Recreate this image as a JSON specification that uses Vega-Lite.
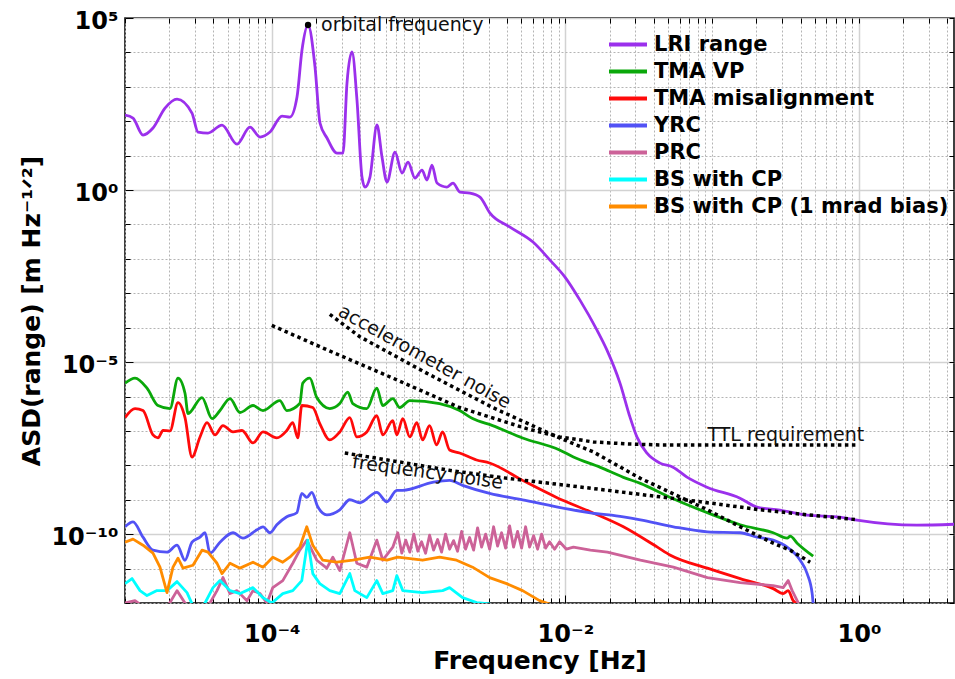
{
  "$schema": "https://vega.github.io/schema/vega-lite/v6.json",
  "width": 829,
  "height": 585,
  "autosize": {"type": "none"},
  "padding": {"left": 125, "top": 18, "right": 1, "bottom": 76},
  "background": "white",
  "config": {
    "font": "DejaVu Sans",
    "view": {"stroke": "black", "strokeWidth": 1.5},
    "axis": {"domain": false, "labelFont": "DejaVu Sans", "titleFont": "DejaVu Sans", "labelColor": "black", "titleColor": "black", "tickColor": "black", "labelFontWeight": "bold", "titleFontWeight": "bold", "labelOverlap": false, "labelBound": false, "labelFlush": false}
  },
  "datasets": {
    "series": [
      {"s":"LRI range","f":1e-5,"a":151},{"s":"LRI range","f":1.134e-5,"a":124},{"s":"LRI range","f":1.326e-5,"a":39.7},{"s":"LRI range","f":1.551e-5,"a":63.4},{"s":"LRI range","f":1.873e-5,"a":242},{"s":"LRI range","f":2.261e-5,"a":442},{"s":"LRI range","f":2.86e-5,"a":173},{"s":"LRI range","f":3.143e-5,"a":48.5},{"s":"LRI range","f":3.676e-5,"a":45.4},{"s":"LRI range","f":4.58e-5,"a":77.6},{"s":"LRI range","f":5.795e-5,"a":21.7},{"s":"LRI range","f":7.1e-5,"a":67.8},{"s":"LRI range","f":8.31e-5,"a":34.7},{"s":"LRI range","f":9.72e-5,"a":48.5},{"s":"LRI range","f":1.174e-4,"a":141.6},{"s":"LRI range","f":1.33e-4,"a":132.4},{"s":"LRI range","f":1.485e-4,"a":505},{"s":"LRI range","f":1.606e-4,"a":11750},{"s":"LRI range","f":1.765e-4,"a":62600},{"s":"LRI range","f":1.97e-4,"a":3765},{"s":"LRI range","f":2.13e-4,"a":88.7},{"s":"LRI range","f":2.377e-4,"a":32.5},{"s":"LRI range","f":2.78e-4,"a":11.9},{"s":"LRI range","f":3.055e-4,"a":11.9},{"s":"LRI range","f":3.253e-4,"a":1288},{"s":"LRI range","f":3.518e-4,"a":10280},{"s":"LRI range","f":3.805e-4,"a":413},{"s":"LRI range","f":4.115e-4,"a":2.39},{"s":"LRI range","f":4.313e-4,"a":1.22},{"s":"LRI range","f":4.665e-4,"a":2.39},{"s":"LRI range","f":5.208e-4,"a":77.6},{"s":"LRI range","f":5.633e-4,"a":9.1},{"s":"LRI range","f":6.09e-4,"a":1.71},{"s":"LRI range","f":6.907e-4,"a":12.7},{"s":"LRI range","f":7.71e-4,"a":3.12},{"s":"LRI range","f":8.47e-4,"a":6.52},{"s":"LRI range","f":9.45e-4,"a":2.23},{"s":"LRI range","f":1.055e-3,"a":3.81},{"s":"LRI range","f":1.141e-3,"a":1.95},{"s":"LRI range","f":1.234e-3,"a":5.33},{"s":"LRI range","f":1.335e-3,"a":1.6},{"s":"LRI range","f":1.561e-3,"a":1.22},{"s":"LRI range","f":1.715e-3,"a":1.6},{"s":"LRI range","f":1.914e-3,"a":0.875},{"s":"LRI range","f":2.24e-3,"a":0.818},{"s":"LRI range","f":2.62e-3,"a":0.626},{"s":"LRI range","f":3.065e-3,"a":0.214},{"s":"LRI range","f":4.195e-3,"a":0.0839},{"s":"LRI range","f":6.016e-3,"a":0.0308},{"s":"LRI range","f":7.855e-3,"a":0.00923},{"s":"LRI range","f":9.94e-3,"a":0.00296},{"s":"LRI range","f":1.257e-2,"a":6.34e-4},{"s":"LRI range","f":1.642e-2,"a":8.51e-5},{"s":"LRI range","f":1.92e-2,"a":2.23e-5},{"s":"LRI range","f":2.355e-2,"a":2.45e-6},{"s":"LRI range","f":2.755e-2,"a":2.52e-7},{"s":"LRI range","f":3.075e-2,"a":6.6e-8},{"s":"LRI range","f":3.597e-2,"a":2.26e-8},{"s":"LRI range","f":4.41e-2,"a":1.16e-8},{"s":"LRI range","f":5.41e-2,"a":8.87e-9},{"s":"LRI range","f":6.735e-2,"a":4.54e-9},{"s":"LRI range","f":9.22e-2,"a":2.32e-9},{"s":"LRI range","f":0.1547,"a":1.11e-9},{"s":"LRI range","f":0.202,"a":6.1e-10},{"s":"LRI range","f":0.2897,"a":4.99e-10},{"s":"LRI range","f":0.4424,"a":3.56e-10},{"s":"LRI range","f":0.7425,"a":3.12e-10},{"s":"LRI range","f":0.969,"a":2.55e-10},{"s":"LRI range","f":2.484,"a":1.83e-10},{"s":"LRI range","f":4.508,"a":1.95e-10},

      {"s":"TMA VP","f":1e-5,"a":2.45e-6},{"s":"TMA VP","f":1.17e-5,"a":3.43e-6},{"s":"TMA VP","f":1.412e-5,"a":1.75e-6},{"s":"TMA VP","f":1.678e-5,"a":5.48e-7},{"s":"TMA VP","f":2.025e-5,"a":4.48e-7},{"s":"TMA VP","f":2.296e-5,"a":3.43e-6},{"s":"TMA VP","f":2.563e-5,"a":1.25e-6},{"s":"TMA VP","f":2.687e-5,"a":3.2e-7},{"s":"TMA VP","f":3.346e-5,"a":9.35e-7},{"s":"TMA VP","f":3.914e-5,"a":2.29e-7},{"s":"TMA VP","f":4.437e-5,"a":3.92e-7},{"s":"TMA VP","f":5.192e-5,"a":8.75e-7},{"s":"TMA VP","f":6.074e-5,"a":3.43e-7},{"s":"TMA VP","f":7.447e-5,"a":5.48e-7},{"s":"TMA VP","f":8.711e-5,"a":3.92e-7},{"s":"TMA VP","f":1.134e-4,"a":7.65e-7},{"s":"TMA VP","f":1.265e-4,"a":3.92e-7},{"s":"TMA VP","f":1.551e-4,"a":6.26e-7},{"s":"TMA VP","f":1.626e-4,"a":2.45e-6},{"s":"TMA VP","f":1.815e-4,"a":3.43e-6},{"s":"TMA VP","f":2.025e-4,"a":9.35e-7},{"s":"TMA VP","f":2.484e-4,"a":4.48e-7},{"s":"TMA VP","f":2.906e-4,"a":6.26e-7},{"s":"TMA VP","f":3.294e-4,"a":1.34e-6},{"s":"TMA VP","f":3.563e-4,"a":6.26e-7},{"s":"TMA VP","f":4.437e-4,"a":4.48e-7},{"s":"TMA VP","f":5.192e-4,"a":1.75e-6},{"s":"TMA VP","f":5.704e-4,"a":5.48e-7},{"s":"TMA VP","f":6.673e-4,"a":8.75e-7},{"s":"TMA VP","f":7.447e-4,"a":4.79e-7},{"s":"TMA VP","f":8.711e-4,"a":7.65e-7},{"s":"TMA VP","f":1.39e-3,"a":6.26e-7},{"s":"TMA VP","f":1.902e-3,"a":3.92e-7},{"s":"TMA VP","f":2.333e-3,"a":2.29e-7},{"s":"TMA VP","f":3.193e-3,"a":1.43e-7},{"s":"TMA VP","f":5.111e-3,"a":6.26e-8},{"s":"TMA VP","f":9.132e-3,"a":2.8e-8},{"s":"TMA VP","f":1.134e-2,"a":1.75e-8},{"s":"TMA VP","f":1.731e-2,"a":8.75e-9},{"s":"TMA VP","f":2.484e-2,"a":4.48e-9},{"s":"TMA VP","f":3.243e-2,"a":3.0e-9},{"s":"TMA VP","f":5.192e-2,"a":1.17e-9},{"s":"TMA VP","f":9.276e-2,"a":4.19e-10},{"s":"TMA VP","f":0.1551,"a":1.88e-10},{"s":"TMA VP","f":0.2604,"a":1.1e-10},{"s":"TMA VP","f":0.3243,"a":7.65e-11},{"s":"TMA VP","f":0.3399,"a":8.75e-11},{"s":"TMA VP","f":0.3793,"a":5.48e-11},{"s":"TMA VP","f":0.4876,"a":2.29e-11},

      {"s":"TMA misalignment","f":1e-5,"a":2.45e-7},{"s":"TMA misalignment","f":1.17e-5,"a":4.48e-7},{"s":"TMA misalignment","f":1.326e-5,"a":3.92e-7},{"s":"TMA misalignment","f":1.551e-5,"a":7.65e-8},{"s":"TMA misalignment","f":1.678e-5,"a":6.26e-8},{"s":"TMA misalignment","f":1.815e-5,"a":1.03e-7},{"s":"TMA misalignment","f":2.025e-5,"a":1.0e-7},{"s":"TMA misalignment","f":2.296e-5,"a":6.69e-7},{"s":"TMA misalignment","f":2.563e-5,"a":2.45e-7},{"s":"TMA misalignment","f":2.861e-5,"a":1.75e-8},{"s":"TMA misalignment","f":3.243e-5,"a":6.69e-8},{"s":"TMA misalignment","f":3.62e-5,"a":1.75e-7},{"s":"TMA misalignment","f":4.103e-5,"a":7.65e-8},{"s":"TMA misalignment","f":4.651e-5,"a":1.43e-7},{"s":"TMA misalignment","f":5.442e-5,"a":9.35e-8},{"s":"TMA misalignment","f":6.267e-5,"a":1.03e-7},{"s":"TMA misalignment","f":7.447e-5,"a":4.48e-8},{"s":"TMA misalignment","f":8.711e-5,"a":9.35e-8},{"s":"TMA misalignment","f":1.082e-4,"a":6.26e-8},{"s":"TMA misalignment","f":1.265e-4,"a":1.03e-7},{"s":"TMA misalignment","f":1.39e-4,"a":1.75e-7},{"s":"TMA misalignment","f":1.503e-4,"a":6.26e-8},{"s":"TMA misalignment","f":1.601e-4,"a":5.48e-7},{"s":"TMA misalignment","f":1.902e-4,"a":4.79e-7},{"s":"TMA misalignment","f":2.123e-4,"a":1.64e-7},{"s":"TMA misalignment","f":2.484e-4,"a":5.48e-8},{"s":"TMA misalignment","f":2.906e-4,"a":9.35e-8},{"s":"TMA misalignment","f":3.399e-4,"a":2.45e-7},{"s":"TMA misalignment","f":3.793e-4,"a":6.69e-8},{"s":"TMA misalignment","f":4.437e-4,"a":9.35e-8},{"s":"TMA misalignment","f":5.192e-4,"a":2.8e-7},{"s":"TMA misalignment","f":5.704e-4,"a":7.65e-8},{"s":"TMA misalignment","f":6.673e-4,"a":2.0e-7},{"s":"TMA misalignment","f":7.105e-4,"a":7.65e-8},{"s":"TMA misalignment","f":7.806e-4,"a":2.29e-7},{"s":"TMA misalignment","f":8.711e-4,"a":6.69e-8},{"s":"TMA misalignment","f":9.72e-4,"a":1.75e-7},{"s":"TMA misalignment","f":1.065e-3,"a":5.48e-8},{"s":"TMA misalignment","f":1.188e-3,"a":1.43e-7},{"s":"TMA misalignment","f":1.326e-3,"a":3.92e-8},{"s":"TMA misalignment","f":1.457e-3,"a":9.35e-8},{"s":"TMA misalignment","f":1.626e-3,"a":2.8e-8},{"s":"TMA misalignment","f":1.902e-3,"a":2.29e-8},{"s":"TMA misalignment","f":2.484e-3,"a":1.43e-8},{"s":"TMA misalignment","f":3.046e-3,"a":1.17e-8},{"s":"TMA misalignment","f":5.111e-3,"a":3.66e-9},{"s":"TMA misalignment","f":8.711e-3,"a":1.17e-9},{"s":"TMA misalignment","f":1.48e-2,"a":4.48e-10},{"s":"TMA misalignment","f":2.484e-2,"a":1.64e-10},{"s":"TMA misalignment","f":4.234e-2,"a":4.19e-11},{"s":"TMA misalignment","f":5.192e-2,"a":2.45e-11},{"s":"TMA misalignment","f":9.276e-2,"a":1.03e-11},{"s":"TMA misalignment","f":0.1551,"a":5.12e-12},{"s":"TMA misalignment","f":0.2604,"a":2.62e-12},{"s":"TMA misalignment","f":0.3046,"a":1.88e-12},{"s":"TMA misalignment","f":0.3294,"a":2.29e-12},{"s":"TMA misalignment","f":0.3563,"a":1.17e-12},{"s":"TMA misalignment","f":0.3793,"a":9.35e-13},

      {"s":"YRC","f":1e-5,"a":1.64e-10},{"s":"YRC","f":1.134e-5,"a":2.29e-10},{"s":"YRC","f":1.326e-5,"a":8.18e-11},{"s":"YRC","f":1.551e-5,"a":3.43e-11},{"s":"YRC","f":1.932e-5,"a":3.0e-11},{"s":"YRC","f":2.261e-5,"a":4.79e-11},{"s":"YRC","f":2.563e-5,"a":1.75e-11},{"s":"YRC","f":2.861e-5,"a":5.86e-11},{"s":"YRC","f":3.243e-5,"a":8.18e-11},{"s":"YRC","f":3.508e-5,"a":1.1e-10},{"s":"YRC","f":3.793e-5,"a":2.8e-11},{"s":"YRC","f":4.437e-5,"a":5.86e-11},{"s":"YRC","f":5.442e-5,"a":1.1e-10},{"s":"YRC","f":6.366e-5,"a":7.65e-11},{"s":"YRC","f":7.929e-5,"a":1.34e-10},{"s":"YRC","f":8.711e-5,"a":1.64e-10},{"s":"YRC","f":9.72e-5,"a":1.1e-10},{"s":"YRC","f":1.082e-4,"a":1.88e-10},{"s":"YRC","f":1.265e-4,"a":3.2e-10},{"s":"YRC","f":1.48e-4,"a":4.19e-10},{"s":"YRC","f":1.601e-4,"a":1.53e-9},{"s":"YRC","f":1.731e-4,"a":1.17e-9},{"s":"YRC","f":1.873e-4,"a":1.64e-9},{"s":"YRC","f":2.057e-4,"a":6.26e-10},{"s":"YRC","f":2.37e-4,"a":3.66e-10},{"s":"YRC","f":2.906e-4,"a":5.12e-10},{"s":"YRC","f":3.399e-4,"a":1.0e-9},{"s":"YRC","f":3.976e-4,"a":8.18e-10},{"s":"YRC","f":5.192e-4,"a":1.64e-9},{"s":"YRC","f":6.074e-4,"a":8.75e-10},{"s":"YRC","f":7.105e-4,"a":1.88e-9},{"s":"YRC","f":7.806e-4,"a":1.88e-9},{"s":"YRC","f":1.245e-3,"a":3.2e-9},{"s":"YRC","f":1.626e-3,"a":3.66e-9},{"s":"YRC","f":1.994e-3,"a":2.62e-9},{"s":"YRC","f":3.046e-3,"a":1.53e-9},{"s":"YRC","f":5.111e-3,"a":1.0e-9},{"s":"YRC","f":8.711e-3,"a":6.26e-10},{"s":"YRC","f":1.48e-2,"a":4.19e-10},{"s":"YRC","f":2.484e-2,"a":3.2e-10},{"s":"YRC","f":3.243e-2,"a":2.62e-10},{"s":"YRC","f":5.442e-2,"a":1.64e-10},{"s":"YRC","f":9.276e-2,"a":1.17e-10},{"s":"YRC","f":0.1551,"a":1.1e-10},{"s":"YRC","f":0.2025,"a":8.18e-11},{"s":"YRC","f":0.2604,"a":6.69e-11},{"s":"YRC","f":0.3243,"a":4.19e-11},{"s":"YRC","f":0.3976,"a":1.75e-11},{"s":"YRC","f":0.4437,"a":7.16e-12},{"s":"YRC","f":0.48,"a":1.88e-12},{"s":"YRC","f":0.4876,"a":9.35e-13},

      {"s":"PRC","f":1e-5,"a":1.0e-12},{"s":"PRC","f":1.17e-5,"a":1.17e-12},{"s":"PRC","f":1.434e-5,"a":6.26e-13},{"s":"PRC","f":1.873e-5,"a":6.26e-13},{"s":"PRC","f":2.025e-5,"a":1.03e-12},{"s":"PRC","f":2.261e-5,"a":2.29e-12},{"s":"PRC","f":2.563e-5,"a":1.0e-12},{"s":"PRC","f":2.998e-5,"a":5.48e-13},{"s":"PRC","f":3.793e-5,"a":1.0e-12},{"s":"PRC","f":4.234e-5,"a":2.29e-12},{"s":"PRC","f":4.651e-5,"a":5.48e-12},{"s":"PRC","f":5.192e-5,"a":1.88e-12},{"s":"PRC","f":5.794e-5,"a":2.29e-12},{"s":"PRC","f":6.778e-5,"a":1.17e-12},{"s":"PRC","f":7.447e-5,"a":2.29e-12},{"s":"PRC","f":8.311e-5,"a":1.88e-12},{"s":"PRC","f":9.276e-5,"a":1.0e-12},{"s":"PRC","f":1.016e-4,"a":2.8e-12},{"s":"PRC","f":1.188e-4,"a":4.48e-12},{"s":"PRC","f":1.39e-4,"a":1.43e-11},{"s":"PRC","f":1.551e-4,"a":3.43e-11},{"s":"PRC","f":1.731e-4,"a":6.69e-11},{"s":"PRC","f":2.025e-4,"a":1.75e-11},{"s":"PRC","f":2.37e-4,"a":1.03e-11},{"s":"PRC","f":2.604e-4,"a":2.14e-11},{"s":"PRC","f":2.906e-4,"a":8.75e-12},{"s":"PRC","f":3.399e-4,"a":1.1e-10},{"s":"PRC","f":3.793e-4,"a":1.43e-11},{"s":"PRC","f":4.437e-4,"a":1.1e-11},{"s":"PRC","f":5.192e-4,"a":6.69e-11},{"s":"PRC","f":5.704e-4,"a":1.75e-11},{"s":"PRC","f":6.673e-4,"a":4.19e-11},{"s":"PRC","f":7.217e-4,"a":1.1e-10},{"s":"PRC","f":7.685e-4,"a":2.8e-11},{"s":"PRC","f":8.182e-4,"a":6.69e-11},{"s":"PRC","f":8.711e-4,"a":3.0e-11},{"s":"PRC","f":9.276e-4,"a":1.0e-10},{"s":"PRC","f":9.88e-4,"a":3.2e-11},{"s":"PRC","f":1.048e-3,"a":6.0e-11},{"s":"PRC","f":1.116e-3,"a":2.8e-11},{"s":"PRC","f":1.188e-3,"a":9.35e-11},{"s":"PRC","f":1.265e-3,"a":3.43e-11},{"s":"PRC","f":1.347e-3,"a":7.0e-11},{"s":"PRC","f":1.434e-3,"a":3.0e-11},{"s":"PRC","f":1.527e-3,"a":1.0e-10},{"s":"PRC","f":1.626e-3,"a":3.66e-11},{"s":"PRC","f":1.731e-3,"a":6.5e-11},{"s":"PRC","f":1.843e-3,"a":3.2e-11},{"s":"PRC","f":1.963e-3,"a":1.2e-10},{"s":"PRC","f":2.09e-3,"a":3.66e-11},{"s":"PRC","f":2.225e-3,"a":8.0e-11},{"s":"PRC","f":2.37e-3,"a":3.43e-11},{"s":"PRC","f":2.523e-3,"a":1.53e-10},{"s":"PRC","f":2.687e-3,"a":4.2e-11},{"s":"PRC","f":2.861e-3,"a":1.0e-10},{"s":"PRC","f":3.046e-3,"a":3.66e-11},{"s":"PRC","f":3.243e-3,"a":1.64e-10},{"s":"PRC","f":3.453e-3,"a":4.5e-11},{"s":"PRC","f":3.677e-3,"a":1.1e-10},{"s":"PRC","f":3.914e-3,"a":3.92e-11},{"s":"PRC","f":4.168e-3,"a":1.75e-10},{"s":"PRC","f":4.437e-3,"a":4.2e-11},{"s":"PRC","f":4.725e-3,"a":1.2e-10},{"s":"PRC","f":5.031e-3,"a":3.92e-11},{"s":"PRC","f":5.357e-3,"a":1.64e-10},{"s":"PRC","f":5.704e-3,"a":4.2e-11},{"s":"PRC","f":6.074e-3,"a":9.0e-11},{"s":"PRC","f":6.467e-3,"a":3.66e-11},{"s":"PRC","f":6.885e-3,"a":1.0e-10},{"s":"PRC","f":7.331e-3,"a":3.92e-11},{"s":"PRC","f":7.806e-3,"a":6.0e-11},{"s":"PRC","f":8.442e-3,"a":3.66e-11},{"s":"PRC","f":9.132e-3,"a":6.0e-11},{"s":"PRC","f":1.016e-2,"a":3.66e-11},{"s":"PRC","f":1.134e-2,"a":4.19e-11},{"s":"PRC","f":1.48e-2,"a":3.43e-11},{"s":"PRC","f":1.932e-2,"a":3.0e-11},{"s":"PRC","f":3.243e-2,"a":1.75e-11},{"s":"PRC","f":5.442e-2,"a":1.1e-11},{"s":"PRC","f":9.276e-2,"a":5.48e-12},{"s":"PRC","f":0.1551,"a":3.92e-12},{"s":"PRC","f":0.2604,"a":3.2e-12},{"s":"PRC","f":0.3046,"a":2.8e-12},{"s":"PRC","f":0.3294,"a":4.48e-12},{"s":"PRC","f":0.3508,"a":2.29e-12},{"s":"PRC","f":0.3793,"a":1.17e-12},{"s":"PRC","f":0.3976,"a":7.16e-13},

      {"s":"BS with CP","f":1e-5,"a":3.66e-12},{"s":"BS with CP","f":1.116e-5,"a":5.12e-12},{"s":"BS with CP","f":1.265e-5,"a":2.29e-12},{"s":"BS with CP","f":1.412e-5,"a":1.64e-12},{"s":"BS with CP","f":1.652e-5,"a":2.29e-12},{"s":"BS with CP","f":1.932e-5,"a":2.29e-12},{"s":"BS with CP","f":2.261e-5,"a":4.19e-12},{"s":"BS with CP","f":2.645e-5,"a":2.0e-12},{"s":"BS with CP","f":2.906e-5,"a":8.18e-13},{"s":"BS with CP","f":3.243e-5,"a":7.16e-13},{"s":"BS with CP","f":3.508e-5,"a":1.0e-12},{"s":"BS with CP","f":3.976e-5,"a":2.8e-12},{"s":"BS with CP","f":4.437e-5,"a":4.48e-12},{"s":"BS with CP","f":5.192e-5,"a":2.29e-12},{"s":"BS with CP","f":6.074e-5,"a":1.88e-12},{"s":"BS with CP","f":7.447e-5,"a":2.8e-12},{"s":"BS with CP","f":8.711e-5,"a":1.43e-12},{"s":"BS with CP","f":1.0e-4,"a":1.0e-12},{"s":"BS with CP","f":1.188e-4,"a":1.88e-12},{"s":"BS with CP","f":1.39e-4,"a":2.29e-12},{"s":"BS with CP","f":1.601e-4,"a":4.48e-12},{"s":"BS with CP","f":1.759e-4,"a":6.69e-11},{"s":"BS with CP","f":1.902e-4,"a":7.16e-12},{"s":"BS with CP","f":2.123e-4,"a":3.66e-12},{"s":"BS with CP","f":2.484e-4,"a":2.29e-12},{"s":"BS with CP","f":2.906e-4,"a":1.88e-12},{"s":"BS with CP","f":3.399e-4,"a":7.16e-12},{"s":"BS with CP","f":3.677e-4,"a":2.29e-12},{"s":"BS with CP","f":4.437e-4,"a":1.43e-12},{"s":"BS with CP","f":5.192e-4,"a":4.48e-12},{"s":"BS with CP","f":5.704e-4,"a":1.88e-12},{"s":"BS with CP","f":6.673e-4,"a":2.29e-12},{"s":"BS with CP","f":7.105e-4,"a":6.26e-12},{"s":"BS with CP","f":7.806e-4,"a":2.29e-12},{"s":"BS with CP","f":1.065e-3,"a":2.0e-12},{"s":"BS with CP","f":1.457e-3,"a":2.29e-12},{"s":"BS with CP","f":1.626e-3,"a":2.8e-12},{"s":"BS with CP","f":1.994e-3,"a":1.43e-12},{"s":"BS with CP","f":2.484e-3,"a":1.03e-12},{"s":"BS with CP","f":3.046e-3,"a":9.35e-13},{"s":"BS with CP","f":3.294e-3,"a":6.26e-13},

      {"s":"BS with CP (1 mrad bias)","f":1e-5,"a":5.86e-11},{"s":"BS with CP (1 mrad bias)","f":1.134e-5,"a":7.16e-11},{"s":"BS with CP (1 mrad bias)","f":1.326e-5,"a":4.79e-11},{"s":"BS with CP (1 mrad bias)","f":1.551e-5,"a":2.8e-11},{"s":"BS with CP (1 mrad bias)","f":1.731e-5,"a":1.1e-11},{"s":"BS with CP (1 mrad bias)","f":1.932e-5,"a":2.0e-12},{"s":"BS with CP (1 mrad bias)","f":2.123e-5,"a":1.1e-11},{"s":"BS with CP (1 mrad bias)","f":2.296e-5,"a":2.0e-11},{"s":"BS with CP (1 mrad bias)","f":2.484e-5,"a":1.03e-11},{"s":"BS with CP (1 mrad bias)","f":2.906e-5,"a":1.25e-11},{"s":"BS with CP (1 mrad bias)","f":3.346e-5,"a":3.43e-11},{"s":"BS with CP (1 mrad bias)","f":3.677e-5,"a":3.0e-11},{"s":"BS with CP (1 mrad bias)","f":4.234e-5,"a":1.43e-11},{"s":"BS with CP (1 mrad bias)","f":4.579e-5,"a":7.16e-12},{"s":"BS with CP (1 mrad bias)","f":5.192e-5,"a":1.43e-11},{"s":"BS with CP (1 mrad bias)","f":6.074e-5,"a":1.03e-11},{"s":"BS with CP (1 mrad bias)","f":7.447e-5,"a":1.53e-11},{"s":"BS with CP (1 mrad bias)","f":8.711e-5,"a":1.1e-11},{"s":"BS with CP (1 mrad bias)","f":1.016e-4,"a":2.14e-11},{"s":"BS with CP (1 mrad bias)","f":1.188e-4,"a":1.53e-11},{"s":"BS with CP (1 mrad bias)","f":1.326e-4,"a":2.14e-11},{"s":"BS with CP (1 mrad bias)","f":1.551e-4,"a":4.19e-11},{"s":"BS with CP (1 mrad bias)","f":1.731e-4,"a":1.64e-10},{"s":"BS with CP (1 mrad bias)","f":1.902e-4,"a":4.79e-11},{"s":"BS with CP (1 mrad bias)","f":2.225e-4,"a":1.75e-11},{"s":"BS with CP (1 mrad bias)","f":2.772e-4,"a":1.53e-11},{"s":"BS with CP (1 mrad bias)","f":3.563e-4,"a":1.75e-11},{"s":"BS with CP (1 mrad bias)","f":4.651e-4,"a":2.14e-11},{"s":"BS with CP (1 mrad bias)","f":6.074e-4,"a":1.75e-11},{"s":"BS with CP (1 mrad bias)","f":7.217e-4,"a":2.14e-11},{"s":"BS with CP (1 mrad bias)","f":1.065e-3,"a":1.75e-11},{"s":"BS with CP (1 mrad bias)","f":1.39e-3,"a":2.14e-11},{"s":"BS with CP (1 mrad bias)","f":1.815e-3,"a":1.75e-11},{"s":"BS with CP (1 mrad bias)","f":2.333e-3,"a":1.1e-11},{"s":"BS with CP (1 mrad bias)","f":3.046e-3,"a":5.48e-12},{"s":"BS with CP (1 mrad bias)","f":3.976e-3,"a":3.66e-12},{"s":"BS with CP (1 mrad bias)","f":5.111e-3,"a":2.29e-12},{"s":"BS with CP (1 mrad bias)","f":6.673e-3,"a":1.17e-12},{"s":"BS with CP (1 mrad bias)","f":7.806e-3,"a":9.35e-13},{"s":"BS with CP (1 mrad bias)","f":8.442e-3,"a":6.26e-13}
    ],
    "dotted": [
      {"s":"TTL requirement","f":1.0e-4,"a":1.17e-4},{"s":"TTL requirement","f":2.37e-4,"a":2.29e-5},{"s":"TTL requirement","f":6.673e-4,"a":3.43e-6},{"s":"TTL requirement","f":1.902e-3,"a":4.79e-7},{"s":"TTL requirement","f":5.442e-3,"a":1.17e-7},{"s":"TTL requirement","f":9.132e-3,"a":6.69e-8},{"s":"TTL requirement","f":1.551e-2,"a":4.79e-8},{"s":"TTL requirement","f":2.645e-2,"a":4.19e-8},{"s":"TTL requirement","f":4.437e-2,"a":3.92e-8},{"s":"TTL requirement","f":0.2123,"a":3.92e-8},{"s":"TTL requirement","f":0.986,"a":3.92e-8},
      {"s":"accelerometer noise","f":2.484e-4,"a":2.45e-4},{"s":"accelerometer noise","f":3.976e-4,"a":5.48e-5},{"s":"accelerometer noise","f":1.134e-3,"a":4.79e-6},{"s":"accelerometer noise","f":3.193e-3,"a":4.79e-7},{"s":"accelerometer noise","f":9.132e-3,"a":6.26e-8},{"s":"accelerometer noise","f":1.551e-2,"a":2.45e-8},{"s":"accelerometer noise","f":3.243e-2,"a":4.19e-9},{"s":"accelerometer noise","f":9.276e-2,"a":5.12e-10},{"s":"accelerometer noise","f":0.1551,"a":1.64e-10},{"s":"accelerometer noise","f":0.2604,"a":5.48e-11},{"s":"accelerometer noise","f":0.3399,"a":3.43e-11},{"s":"accelerometer noise","f":0.4651,"a":1.53e-11},
      {"s":"frequency noise","f":3.143e-4,"a":2.29e-8},{"s":"frequency noise","f":7.447e-4,"a":1.25e-8},{"s":"frequency noise","f":1.626e-3,"a":7.16e-9},{"s":"frequency noise","f":3.563e-3,"a":4.48e-9},{"s":"frequency noise","f":7.806e-3,"a":3.0e-9},{"s":"frequency noise","f":1.731e-2,"a":2.0e-9},{"s":"frequency noise","f":3.243e-2,"a":1.43e-9},{"s":"frequency noise","f":8.311e-2,"a":8.75e-10},{"s":"frequency noise","f":0.2123,"a":5.12e-10},{"s":"frequency noise","f":0.4437,"a":3.66e-10},{"s":"frequency noise","f":0.986,"a":2.62e-10}
    ],
    "orbit": [{"f":1.765e-4,"a":62600,"label":"orbital frequency"}],
    "ttl": [{"f":0.0928,"a":7.65e-8,"label":"TTL requirement"}],
    "acc": [{"f":1.099e-3,"a":1.43e-5,"label":"accelerometer noise"}],
    "freq": [{"f":1.152e-3,"a":6.26e-9,"label":"frequency noise"}]
  },
  "layer": [
    {
      "data": {"name": "series"},
      "transform": [{"filter": "datum.s !== 'PRC' && datum.s !== 'BS with CP' && datum.s !== 'BS with CP (1 mrad bias)'"}],
      "mark": {"type": "line", "clip": true, "strokeWidth": 2.8, "strokeJoin": "round", "interpolate": "monotone"},
      "encoding": {
        "x": {"field": "f", "type": "quantitative", "scale": {"type": "log", "domain": [1e-5, 4.44], "nice": false},
          "axis": {"orient": "bottom", "values": [0.0001, 0.01, 1], "ticks": false, "grid": true, "gridColor": "#d2d2d2", "gridWidth": 1.5, "labelFontSize": 24, "labelPadding": 19, "labelExpr": "datum.value < 0.001 ? '10⁻⁴' : datum.value < 0.1 ? '10⁻²' : '10⁰'", "title": "Frequency [Hz]", "titleFontSize": 25, "titlePadding": 2}},
        "y": {"field": "a", "type": "quantitative", "scale": {"type": "log", "domain": [1e-12, 1e5], "nice": false},
          "axis": {"orient": "left", "values": [100000, 1, 1e-5, 1e-10], "ticks": false, "grid": true, "gridColor": "#d2d2d2", "gridWidth": 1.5, "labelFontSize": 24, "labelPadding": 7, "labelOffset": 3, "labelExpr": "datum.value > 10 ? '10⁵' : datum.value > 0.01 ? '10⁰' : datum.value > 1e-7 ? '10⁻⁵' : '10⁻¹⁰'", "title": "ASD(range) [m Hz⁻¹ᐟ²]", "titleFontSize": 25, "titlePadding": 6}},
        "color": {"field": "s", "type": "nominal",
          "scale": {"domain": ["LRI range", "TMA VP", "TMA misalignment", "YRC", "PRC", "BS with CP", "BS with CP (1 mrad bias)"],
                    "range": ["#9b30ec", "#0aa80a", "#ff0a0a", "#5252f5", "#cc6298", "#00ffff", "#ff8c00"]},
          "legend": {"orient": "none", "legendX": 482, "legendY": 13, "title": null, "symbolType": "stroke", "symbolSize": 1444, "symbolStrokeWidth": 4, "labelFont": "DejaVu Sans", "labelFontSize": 21, "labelFontWeight": "bold", "labelColor": "black", "clipHeight": 27, "rowPadding": 0, "labelOffset": 5, "padding": 0, "labelLimit": 500}}
      }
    },
    {
      "data": {"name": "series"},
      "transform": [{"filter": "datum.s === 'PRC' || datum.s === 'BS with CP' || datum.s === 'BS with CP (1 mrad bias)'"}],
      "mark": {"type": "line", "clip": true, "strokeWidth": 2.8, "strokeJoin": "round"},
      "encoding": {
        "x": {"field": "f", "type": "quantitative", "scale": {"type": "log", "domain": [1e-5, 4.44], "nice": false}, "axis": null},
        "y": {"field": "a", "type": "quantitative", "scale": {"type": "log", "domain": [1e-12, 1e5], "nice": false}, "axis": null},
        "color": {"field": "s", "type": "nominal",
          "scale": {"domain": ["LRI range", "TMA VP", "TMA misalignment", "YRC", "PRC", "BS with CP", "BS with CP (1 mrad bias)"],
                    "range": ["#9b30ec", "#0aa80a", "#ff0a0a", "#5252f5", "#cc6298", "#00ffff", "#ff8c00"]},
          "legend": {"orient": "none", "legendX": 482, "legendY": 13, "title": null, "symbolType": "stroke", "symbolSize": 1444, "symbolStrokeWidth": 4, "labelFont": "DejaVu Sans", "labelFontSize": 21, "labelFontWeight": "bold", "labelColor": "black", "clipHeight": 27, "rowPadding": 0, "labelOffset": 5, "padding": 0, "labelLimit": 500}}
      }
    },
    {
      "data": {"name": "dotted"},
      "mark": {"type": "line", "clip": true, "color": "black", "strokeWidth": 3.5, "strokeDash": [3.5, 3.5]},
      "encoding": {
        "x": {"field": "f", "type": "quantitative", "scale": {"type": "log", "domain": [1e-5, 4.44], "nice": false},
          "axis": {"orient": "bottom", "values": [1e-5,2e-5,3e-5,4e-5,5e-5,6e-5,7e-5,8e-5,9e-5,2e-4,3e-4,4e-4,5e-4,6e-4,7e-4,8e-4,9e-4,1e-3,2e-3,3e-3,4e-3,5e-3,6e-3,7e-3,8e-3,9e-3,2e-2,3e-2,4e-2,5e-2,6e-2,7e-2,8e-2,9e-2,0.1,0.2,0.3,0.4,0.5,0.6,0.7,0.8,0.9,2,3,4], "grid": true, "gridColor": "#b4b4b4", "gridDash": [2, 2], "gridWidth": 1, "ticks": true, "tickSize": -5, "labels": false, "title": null}},
        "y": {"field": "a", "type": "quantitative", "scale": {"type": "log", "domain": [1e-12, 1e5], "nice": false},
          "axis": {"orient": "left", "values": [10000, 1000, 100, 10, 0.1, 0.01, 0.001, 0.0001, 1e-6, 1e-7, 1e-8, 1e-9, 1e-11, 1e-12], "grid": true, "gridColor": "#b4b4b4", "gridDash": [2, 2], "gridWidth": 1, "ticks": true, "tickSize": -5, "labels": false, "title": null}},
        "detail": {"field": "s", "type": "nominal"}
      }
    },
    {
      "data": {"name": "orbit"},
      "mark": {"type": "point", "filled": true, "color": "black", "size": 40, "opacity": 1},
      "encoding": {
        "x": {"field": "f", "type": "quantitative", "scale": {"type": "log", "domain": [1e-5, 4.44], "nice": false},
          "axis": {"orient": "top", "values": [1e-5,2e-5,3e-5,4e-5,5e-5,6e-5,7e-5,8e-5,9e-5,1e-4,2e-4,3e-4,4e-4,5e-4,6e-4,7e-4,8e-4,9e-4,1e-3,2e-3,3e-3,4e-3,5e-3,6e-3,7e-3,8e-3,9e-3,1e-2,2e-2,3e-2,4e-2,5e-2,6e-2,7e-2,8e-2,9e-2,0.1,0.2,0.3,0.4,0.5,0.6,0.7,0.8,0.9,1,2,3,4], "grid": false, "ticks": true, "tickSize": -5, "labels": false, "title": null}},
        "y": {"field": "a", "type": "quantitative", "scale": {"type": "log", "domain": [1e-12, 1e5], "nice": false},
          "axis": {"orient": "right", "values": [100000, 10000, 1000, 100, 10, 1, 0.1, 0.01, 0.001, 0.0001, 1e-5, 1e-6, 1e-7, 1e-8, 1e-9, 1e-10, 1e-11, 1e-12], "grid": false, "ticks": true, "tickSize": -5, "labels": false, "title": null}}
      }
    },
    {
      "data": {"name": "orbit"},
      "mark": {"type": "text", "align": "left", "baseline": "middle", "dx": 13, "fontSize": 19, "font": "DejaVu Sans", "color": "#111111"},
      "encoding": {
        "x": {"field": "f", "type": "quantitative", "scale": {"type": "log", "domain": [1e-5, 4.44], "nice": false},
          "axis": {"orient": "bottom", "values": [0.0001, 0.01, 1], "grid": false, "ticks": true, "tickSize": -8, "labels": false, "title": null}},
        "y": {"field": "a", "type": "quantitative", "scale": {"type": "log", "domain": [1e-12, 1e5], "nice": false},
          "axis": {"orient": "left", "values": [100000, 1, 1e-5, 1e-10], "grid": false, "ticks": true, "tickSize": -8, "labels": false, "title": null}},
        "text": {"field": "label"}
      }
    },
    {
      "data": {"name": "ttl"},
      "mark": {"type": "text", "align": "left", "baseline": "middle", "fontSize": 19, "font": "DejaVu Sans", "color": "#111111"},
      "encoding": {
        "x": {"field": "f", "type": "quantitative", "scale": {"type": "log", "domain": [1e-5, 4.44], "nice": false}, "axis": null},
        "y": {"field": "a", "type": "quantitative", "scale": {"type": "log", "domain": [1e-12, 1e5], "nice": false}, "axis": null},
        "text": {"field": "label"}
      }
    },
    {
      "data": {"name": "acc"},
      "mark": {"type": "text", "align": "center", "baseline": "middle", "angle": 29, "fontSize": 19, "font": "DejaVu Sans", "color": "#111111"},
      "encoding": {
        "x": {"field": "f", "type": "quantitative", "scale": {"type": "log", "domain": [1e-5, 4.44], "nice": false}, "axis": null},
        "y": {"field": "a", "type": "quantitative", "scale": {"type": "log", "domain": [1e-12, 1e5], "nice": false}, "axis": null},
        "text": {"field": "label"}
      }
    },
    {
      "data": {"name": "freq"},
      "mark": {"type": "text", "align": "center", "baseline": "middle", "angle": 8, "fontSize": 19, "font": "DejaVu Sans", "color": "#111111"},
      "encoding": {
        "x": {"field": "f", "type": "quantitative", "scale": {"type": "log", "domain": [1e-5, 4.44], "nice": false}, "axis": null},
        "y": {"field": "a", "type": "quantitative", "scale": {"type": "log", "domain": [1e-12, 1e5], "nice": false}, "axis": null},
        "text": {"field": "label"}
      }
    }
  ],
  "resolve": {"axis": {"x": "independent", "y": "independent"}}
}
